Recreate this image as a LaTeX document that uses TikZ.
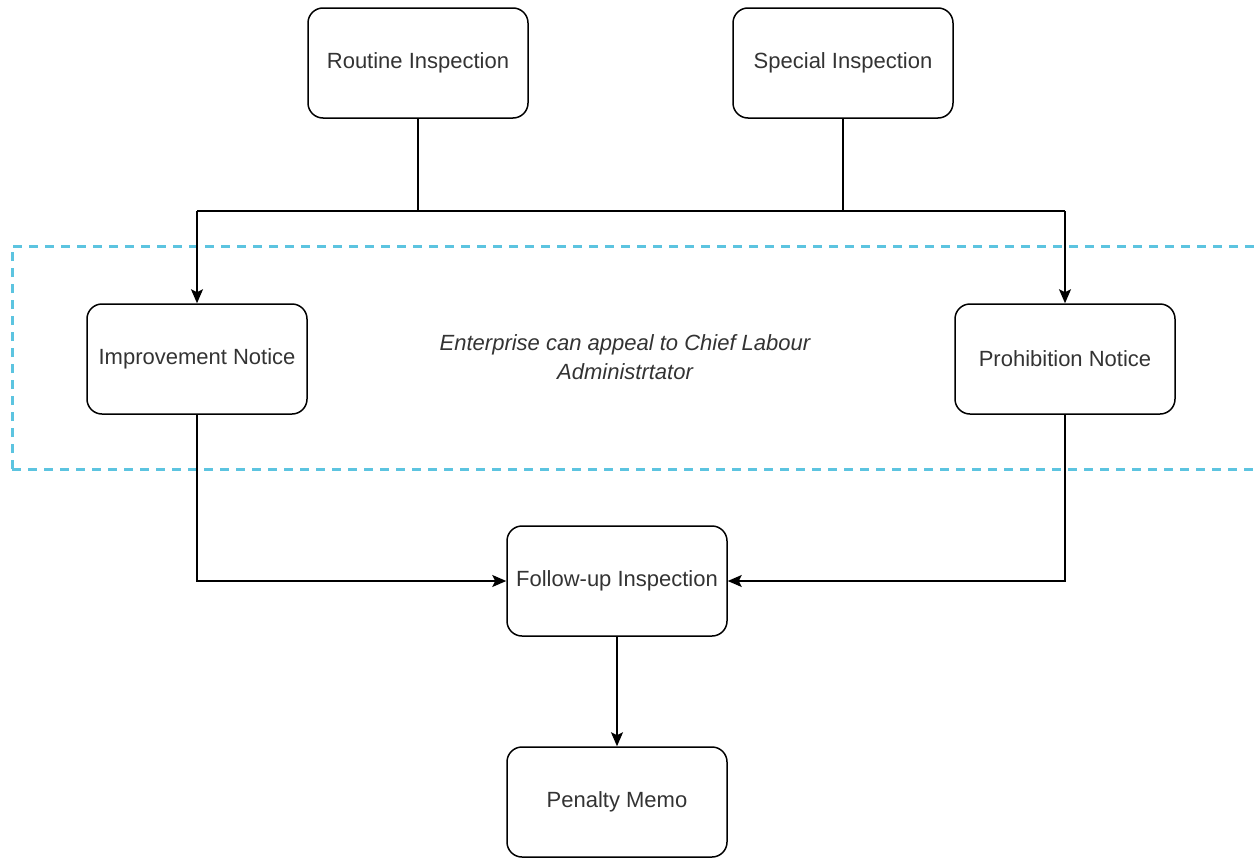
\documentclass[tikz,border=0pt]{standalone}
\usepackage{fontspec}
\setmainfont{Liberation Sans}
\usetikzlibrary{arrows.meta}
\definecolor{txt}{HTML}{333333}
\definecolor{dashblue}{HTML}{5CC4E0}
\tikzset{
  box/.style={draw=black, line width=1.5pt, rounded corners=15pt, minimum width=220pt, minimum height=110pt, inner sep=0pt, text=txt, font=\fontsize{22}{26}\selectfont},
  conn/.style={draw=black, line width=1.5pt},
  arr/.style={conn, -{Stealth[length=14pt, width=12pt, inset=3pt]}},
}
\begin{document}
\begin{tikzpicture}[x=1pt,y=-1pt]
\useasboundingbox (0,0) rectangle (1258,862);
\draw[dashblue, line width=3pt, dash pattern=on 9pt off 7pt] (12,469) -- (12,246) -- (1270,246);
\draw[dashblue, line width=3pt, dash pattern=on 9pt off 7pt] (12,469) -- (1270,469);
\node[box] (ri) at (418,63) {Routine Inspection};
\node[box] (si) at (843,63) {Special Inspection};
\node[box] (in) at (197,359) {Improvement Notice};
\node[box] (pn) at (1065,359) {Prohibition Notice};
\node[box] (fu) at (617,581) {Follow-up Inspection};
\node[box] (pm) at (617,802) {Penalty Memo};
\node[text=txt, font=\fontsize{22}{29}\selectfont\itshape, align=center] (ap) at (625,357) {Enterprise can appeal to Chief Labour\\Administrtator};
\coordinate (jl) at (197,211);
\coordinate (jr) at (1065,211);
\draw[conn] (ri.south) -- (ri.south |- jl);
\draw[conn] (si.south) -- (si.south |- jl);
\draw[conn] (jl) -- (jr);
\draw[arr] (jl) -- (in.north);
\draw[arr] (jr) -- (pn.north);
\draw[arr] (in.south) |- (fu.west);
\draw[arr] (pn.south) |- (fu.east);
\draw[arr] (fu.south) -- (pm.north);
\end{tikzpicture}
\end{document}
